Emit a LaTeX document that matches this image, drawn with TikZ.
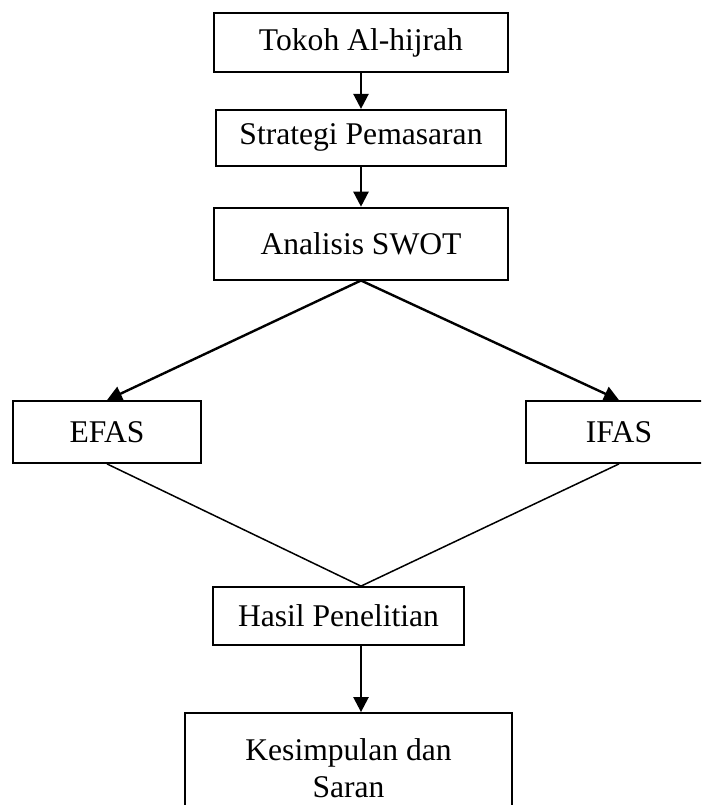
\documentclass[tikz,border=0pt]{standalone}
\usepackage{fontspec}
\setmainfont{Liberation Serif}
\usetikzlibrary{arrows.meta,positioning,calc}

\begin{document}
\begin{tikzpicture}[x=1pt, y=-1pt,
  every node/.style={font=\fontsize{31.6}{37}\selectfont},
  box/.style={draw, line width=1.8pt, align=center, inner sep=0pt},
  arr/.style={-{Triangle[length=15pt,width=15pt]}, line width=2.4pt},
  link/.style={line width=1.5pt}
]
\useasboundingbox (0,0) rectangle (701,805);
\clip (0,0) rectangle (701,805);

\node[box, minimum width=294pt, minimum height=59pt] (tokoh) at (361,42.5) {Tokoh Al-hijrah};
\node[box, minimum width=290pt, minimum height=56pt, below=36pt of tokoh] (strategi) {Strategi Pemasaran};
\node[box, minimum width=294pt, minimum height=72pt, below=40pt of strategi] (swot) {Analisis SWOT};
\node[box, minimum width=188pt, minimum height=62pt] (efas) at (107,432) {EFAS};
\node[box, minimum width=186pt, minimum height=62pt] (ifas) at (619,432) {IFAS};
\node[box, minimum width=251pt, minimum height=58pt] (hasil) at (338.5,616) {Hasil Penelitian};
\node[box, minimum width=327pt, minimum height=110pt] (kesimpulan) at (348.5,768)
  {Kesimpulan dan\\Saran};
\coordinate (temu) at (hasil.north -| swot.south);

\draw[arr] (tokoh) -- (strategi);
\draw[arr] (strategi) -- (swot);
\draw[arr] (swot.south) -- (efas.north);
\draw[arr] (swot.south) -- (ifas.north);
\draw[link] (efas.south) -- (temu);
\draw[link] (ifas.south) -- (temu);
\draw[arr] (hasil.south -| temu) -- (kesimpulan.north -| temu);
\end{tikzpicture}
\end{document}
